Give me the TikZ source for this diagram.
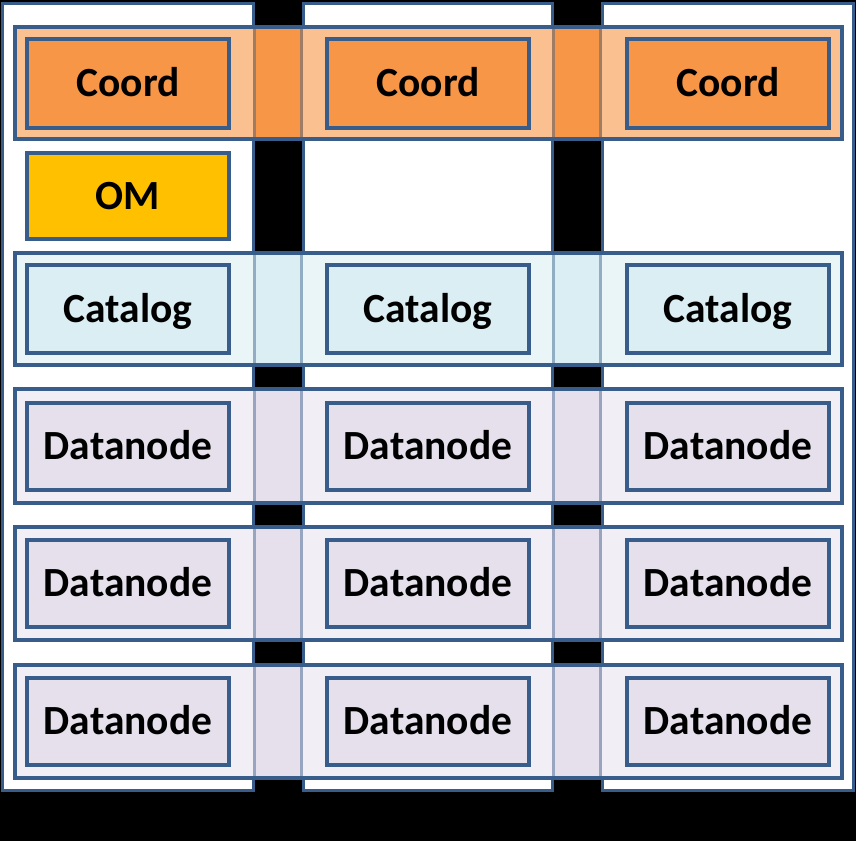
\documentclass[tikz,border=0pt]{standalone}
\usepackage{fontspec}
\setmainfont{Carlito}
\definecolor{edge}{HTML}{385D8A}
\definecolor{coordc}{HTML}{F79646}
\definecolor{coordl}{HTML}{FAC090}
\definecolor{omc}{HTML}{FFC000}
\definecolor{catc}{HTML}{DAEEF3}
\definecolor{catl}{HTML}{EAF5F8}
\definecolor{dnc}{HTML}{E5E0EC}
\definecolor{dnl}{HTML}{F1EFF5}
\tikzset{
  colbox/.style={draw=edge, line width=3pt, fill=white, minimum width=250pt, minimum height=787pt, inner sep=0pt},
  band/.style={minimum width=827pt, minimum height=112pt, inner sep=0pt},
  unit/.style={draw=edge, line width=4pt, minimum width=202pt, minimum height=88pt, inner sep=0pt,
    font=\fontsize{41.5}{41.5}\selectfont\bfseries, text height=26.5pt, text depth=0pt},
}
\begin{document}
\begin{tikzpicture}[x=1pt,y=-1pt]
\fill[black] (0,0) rectangle (856,841);
\useasboundingbox (0,0) rectangle (856,841);
% columns
\node[colbox, minimum width=251pt] (c1) at (127.5,396.5) {};
\node[colbox, minimum width=249pt] (c2) at (427.5,396.5) {};
\node[colbox, minimum width=251pt] (c3) at (727.5,396.5) {};
% bands
\foreach \nm/\y/\h/\light/\dark in {bco/83/112/coordl/coordc, bca/309/112/catl/catc, bd1/446/114/dnl/dnc, bd2/583.5/113/dnl/dnc, bd3/721.5/113/dnl/dnc}{
  \node[band, minimum height=\h pt, fill=\light] (\nm) at (428.5,\y) {};
  \fill[\dark] (c1.east |- \nm.north) rectangle (c2.west |- \nm.south);
  \fill[\dark] (c2.east |- \nm.north) rectangle (c3.west |- \nm.south);
  \foreach \c in {c1.east, c2.west, c2.east, c3.west}{
    \draw[edge!45!\dark, line width=3pt] (\c |- \nm.north) -- (\c |- \nm.south);
  }
  \draw[edge, line width=3.5pt] (\nm.north west) rectangle (\nm.south east);
}
% boxes
\node[unit, fill=coordc, minimum height=89pt] (co1) at (128,83.5) {Coord};
\node[unit, fill=coordc, minimum height=89pt] (co2) at (428,83.5) {Coord};
\node[unit, fill=coordc, minimum height=89pt] (co3) at (728,83.5) {Coord};
\node[unit, fill=omc, minimum height=86pt] (om) at (128,196) {OM};
\node[unit, fill=catc] (ca1) at (128,309) {Catalog};
\node[unit, fill=catc] (ca2) at (428,309) {Catalog};
\node[unit, fill=catc] (ca3) at (728,309) {Catalog};
\foreach \r/\y in {1/446.5,2/583.5,3/721}{
  \node[unit, fill=dnc, minimum height=87pt] (d\r a) at (128,\y) {Datanode};
  \node[unit, fill=dnc, minimum height=87pt] (d\r b) at (428,\y) {Datanode};
  \node[unit, fill=dnc, minimum height=87pt] (d\r c) at (728,\y) {Datanode};
}
\end{tikzpicture}
\end{document}
